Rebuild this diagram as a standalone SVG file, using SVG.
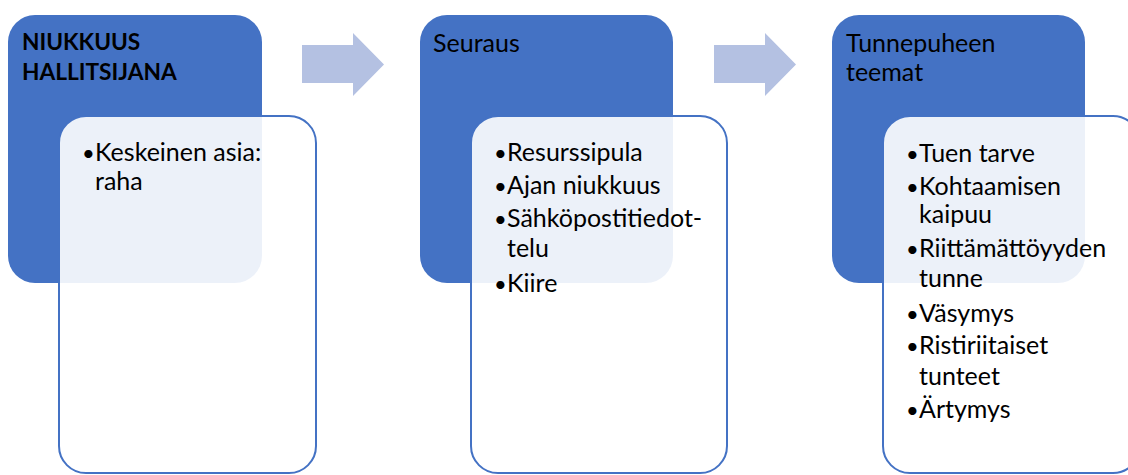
<svg xmlns="http://www.w3.org/2000/svg" width="1128" height="475" viewBox="0 0 1128 475">
<style>
.hd{fill:#4472C4}
.bx{fill:#ffffff;fill-opacity:0.9;stroke:#4472C4;stroke-width:2}
.ar{fill:#B4C1E2}
text{font-family:Lato,"Liberation Sans",sans-serif;fill:#000}
.t{font-size:25px}
.b{font-size:22.7px;font-weight:bold}
.bu{font-size:22px}
</style>
<rect width="1128" height="475" fill="#ffffff"/>
<g id="connectors">
<polygon class="ar" points="302,45 353,45 353,33 384,64.5 353,96 353,83 302,83"/>
<polygon class="ar" points="714,45 765,45 765,33 796,64.5 765,96 765,83 714,83"/>
</g>
<g id="node1">
<rect class="hd" x="8" y="15" width="254" height="268" rx="27"/>
<text class="b" x="22" y="50">NIUKKUUS</text>
<text class="b" x="22" y="80">HALLITSIJANA</text>
<rect class="bx" x="59" y="116" width="257" height="357" rx="27"/>
<text class="t" x="82" y="161"><tspan class="bu">•</tspan><tspan x="95">Keskeinen asia:</tspan></text>
<text class="t" x="95" y="190">raha</text>
</g>
<g id="node2">
<rect class="hd" x="420" y="15" width="253" height="268" rx="27"/>
<text class="t" x="433" y="52">Seuraus</text>
<rect class="bx" x="471" y="116" width="256" height="357" rx="27"/>
<text class="t" x="494" y="161"><tspan class="bu">•</tspan><tspan x="507">Resurssipula</tspan></text>
<text class="t" x="494" y="194"><tspan class="bu">•</tspan><tspan x="507">Ajan niukkuus</tspan></text>
<text class="t" x="494" y="227"><tspan class="bu">•</tspan><tspan x="507">Sähköpostitiedot-</tspan></text>
<text class="t" x="507" y="257">telu</text>
<text class="t" x="494" y="292"><tspan class="bu">•</tspan><tspan x="507">Kiire</tspan></text>
</g>
<g id="node3">
<rect class="hd" x="832" y="15" width="253" height="268" rx="27"/>
<text class="t" x="846" y="52">Tunnepuheen</text>
<text class="t" x="846" y="81">teemat</text>
<rect class="bx" x="883" y="116" width="257" height="357" rx="27"/>
<text class="t" x="906" y="162"><tspan class="bu">•</tspan><tspan x="919">Tuen tarve</tspan></text>
<text class="t" x="906" y="195"><tspan class="bu">•</tspan><tspan x="919">Kohtaamisen</tspan></text>
<text class="t" x="919" y="223">kaipuu</text>
<text class="t" x="906" y="257"><tspan class="bu">•</tspan><tspan x="919">Riittämättöyyden</tspan></text>
<text class="t" x="919" y="287">tunne</text>
<text class="t" x="906" y="322"><tspan class="bu">•</tspan><tspan x="919">Väsymys</tspan></text>
<text class="t" x="906" y="354"><tspan class="bu">•</tspan><tspan x="919">Ristiriitaiset</tspan></text>
<text class="t" x="919" y="385">tunteet</text>
<text class="t" x="906" y="418"><tspan class="bu">•</tspan><tspan x="919">Ärtymys</tspan></text>
</g>
</svg>
